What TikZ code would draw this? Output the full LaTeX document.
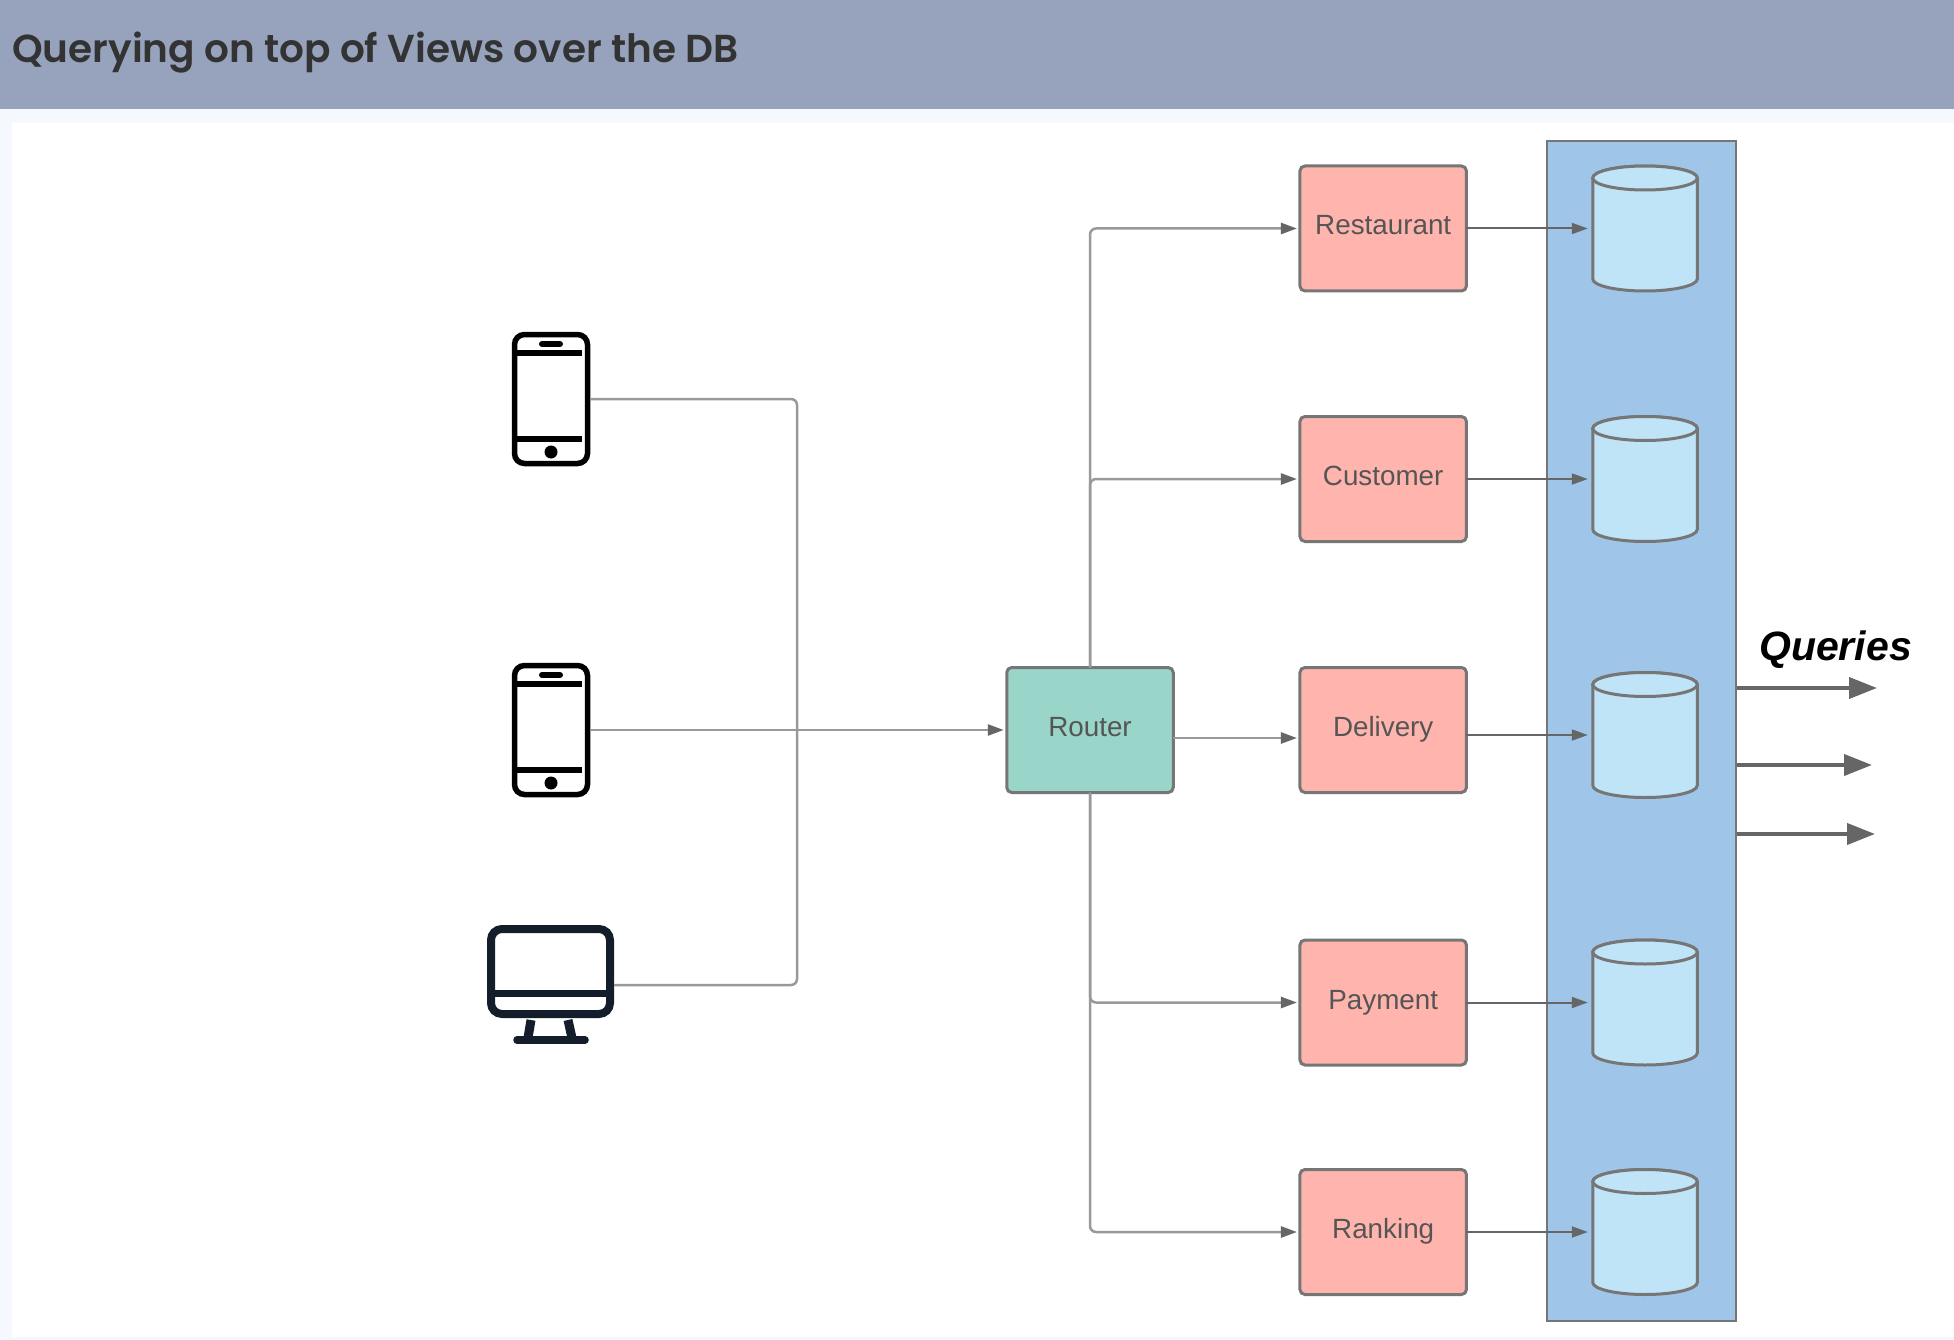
\documentclass[tikz,border=0pt]{standalone}
\usepackage{fontspec}
\setmainfont{Liberation Sans}
\newfontfamily\titlefont[BoldFont={* SemiBold}]{Poppins}
\usetikzlibrary{arrows.meta}
\definecolor{headbg}{HTML}{97A3BD}
\definecolor{pagebg}{HTML}{F5F8FF}
\definecolor{pinkf}{HTML}{FFB5AD}
\definecolor{tealf}{HTML}{99D5C9}
\definecolor{bluef}{HTML}{9FC5E8}
\definecolor{cylf}{HTML}{BFE3F7}
\definecolor{edgec}{HTML}{767676}
\definecolor{wirec}{HTML}{999999}
\definecolor{arrowc}{HTML}{666666}
\definecolor{labelc}{HTML}{555555}
\definecolor{monc}{HTML}{141E2A}
\tikzset{
  box/.style={draw=edgec,line width=3pt,rounded corners=5pt,minimum width=166.5pt,minimum height=125pt,
    inner sep=0pt,outer sep=0pt,text=labelc,text height=20pt,text depth=7pt,
    font=\fontsize{27.8pt}{30pt}\selectfont},
  svc/.style={box,fill=pinkf},
  router/.style={box,fill=tealf},
  storeanchor/.style={minimum width=104.5pt,minimum height=125pt,inner sep=0pt,outer sep=0pt},
  storeline/.style={draw=edgec,line width=3pt,fill=cylf},
  wire/.style={draw=wirec,line width=2.5pt,rounded corners=6pt},
  flow/.style={wire,-{Stealth[length=16pt,width=11pt,inset=0pt,color=arrowc]},shorten >=3pt},
  dbflow/.style={draw=arrowc,line width=2pt,-{Stealth[length=16pt,width=11pt,inset=0pt]},shorten >=5pt},
  queryarrow/.style={draw=arrowc,line width=4pt,-{Stealth[length=28pt,width=21pt,inset=0pt]}},
  phonebody/.style={draw=black,line width=5.5pt,rounded corners=10pt,fill=white,minimum width=73pt,minimum height=129pt,inner sep=0pt,outer sep=2.75pt},
  screenbody/.style={draw=monc,line width=8pt,rounded corners=11pt,fill=white,minimum width=119pt,minimum height=85pt,inner sep=0pt,outer sep=4pt},
}
\newcommand{\phoneicon}[3]{%
  \node[phonebody] (#1) at (#2,#3) {};
  \draw[black,line width=5.5pt] ([yshift=46pt]#1.center -| #1.west) ++(3pt,0) -- ++(67pt,0);
  \draw[black,line width=5.5pt] ([yshift=-40pt]#1.center -| #1.west) ++(3pt,0) -- ++(67pt,0);
  \draw[black,line width=6pt,line cap=round] ([xshift=-9pt,yshift=55pt]#1.center) -- ([xshift=9pt,yshift=55pt]#1.center);
  \fill[black] ([yshift=-53pt]#1.center) circle (6.5pt);
}
\newcommand{\storeicon}[3]{%
  \node[storeanchor] (#1) at (#2,#3) {};
  \path[storeline] ([yshift=-12pt]#1.north west) -- ([yshift=12pt]#1.south west)
     arc[start angle=180,end angle=360,x radius=52.25pt,y radius=12pt]
     -- ([yshift=-12pt]#1.north east)
     arc[start angle=0,end angle=180,x radius=52.25pt,y radius=12pt] -- cycle;
  \path[storeline] ([yshift=-12pt]#1.north) ellipse [x radius=52.25pt,y radius=12pt];
}
\begin{document}
\begin{tikzpicture}[x=1pt,y=-1pt]
\useasboundingbox (0,0) rectangle (1954,1340);
\fill[pagebg] (0,0) rectangle (1954,1340);
\fill[white] (12,123) rectangle (1954,1337);
\fill[headbg] (0,0) rectangle (1954,109);
\node[anchor=base west,inner sep=0pt,text=black!80] (title) at (12,63) {\titlefont\fontsize{39pt}{42pt}\selectfont\bfseries Querying on top of Views over the DB};

\phoneicon{pa}{551}{399}
\phoneicon{pb}{551}{730}
\node[screenbody] (mon) at (550.5,971.5) {};
\draw[monc,line width=7pt] (491,993) -- (610,993);
\draw[monc,line width=9pt] (531,1020) -- (528,1038);
\draw[monc,line width=9pt] (568,1020) -- (572,1038);
\draw[monc,line width=7.5pt,line cap=round] (517,1040) -- (585,1040);
\coordinate (monout) at (614,985);
\coordinate (join) at (797,730);

\node[draw=edgec,line width=2pt,fill=bluef,minimum width=189pt,minimum height=1180pt,inner sep=0pt,outer sep=0pt] (view) at (1641.5,731) {};

\node[router] (rt) at (1090,730) {Router};
\node[svc] (s1) at (1383.2,228.5) {Restaurant};
\node[svc] (s2) at (1383.2,479) {Customer};
\node[svc] (s3) at (1383.2,730) {Delivery};
\node[svc] (s4) at (1383.2,1002.5) {Payment};
\node[svc] (s5) at (1383.2,1232) {Ranking};

\storeicon{d1}{1645}{228.5}
\storeicon{d2}{1645}{479}
\storeicon{d3}{1645}{735}
\storeicon{d4}{1645}{1002.5}
\storeicon{d5}{1645}{1232}

\draw[wire] (pa.east) -| (join);
\draw[wire] (monout) -| (join);
\draw[wire] (pb.east) -- (join);
\draw[flow] (join) -- (rt.west);

\draw[flow] (rt.north) |- (s1.west);
\draw[flow] (rt.north) |- (s2.west);
\draw[flow] (rt.south) |- (s4.west);
\draw[flow] (rt.south) |- (s5.west);
\coordinate (rtout) at ([yshift=-8pt]rt.east);
\draw[flow] (rtout) -- (rtout -| s3.west);

\draw[dbflow] (s1.east) -- (s1.east -| d1.west);
\draw[dbflow] (s2.east) -- (s2.east -| d2.west);
\coordinate (dlout) at ([yshift=-5pt]s3.east);
\draw[dbflow] (dlout) -- (dlout -| d3.west);
\draw[dbflow] (s4.east) -- (s4.east -| d4.west);
\draw[dbflow] (s5.east) -- (s5.east -| d5.west);

\coordinate (qa) at (1737,688);
\coordinate (qb) at (1737,765);
\coordinate (qc) at (1737,834);
\coordinate (qae) at (1877,688);
\coordinate (qbe) at (1872,765);
\coordinate (qce) at (1875,834);
\draw[queryarrow] (qa) -- (qae);
\draw[queryarrow] (qb) -- (qbe);
\draw[queryarrow] (qc) -- (qce);
\node[anchor=base west,inner sep=0pt,text=black] (qlabel) at (1759,660) {\fontsize{41pt}{44pt}\selectfont\bfseries\itshape Queries};
\end{tikzpicture}
\end{document}
